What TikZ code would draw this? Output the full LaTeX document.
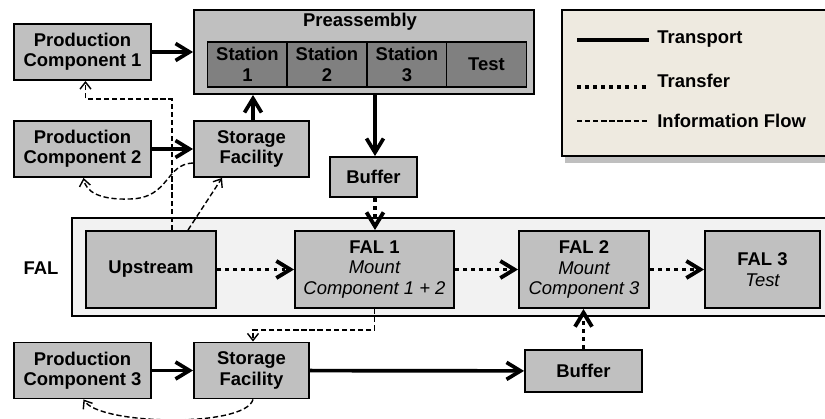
\documentclass[tikz,border=0pt]{standalone}
\usepackage{fontspec}
\setmainfont{Liberation Sans}
\usepackage{xcolor}
\usetikzlibrary{arrows.meta,shadows}
\definecolor{boxgray}{HTML}{C0C0C0}
\definecolor{stationgray}{HTML}{808080}
\definecolor{bandgray}{HTML}{F2F2F2}
\definecolor{legendbg}{HTML}{EEEAE0}

\begin{document}
\begin{tikzpicture}[
  x=0.02cm, y=-0.02cm,
  font=\fontsize{10.5}{11.6}\selectfont\bfseries,
  box/.style={rectangle, draw=black, line width=1.1pt, fill=boxgray, align=center, inner sep=1pt},
  station/.style={box, fill=stationgray, minimum width=1.6cm, minimum height=0.9cm},
  prodbox/.style={box, minimum width=2.74cm, minimum height=1.12cm},
  storebox/.style={box, minimum width=2.3cm, minimum height=1.12cm},
  falbox/.style={box, minimum height=1.54cm},
  transport/.style={-{Straight Barb[length=2.8mm,width=3.4mm]}, line width=2.1pt},
  transfer/.style={-{Straight Barb[length=2.8mm,width=3.4mm]}, line width=2.2pt, dash pattern=on 2.2pt off 2.4pt},
  info/.style={-{Straight Barb[length=1.4mm,width=2.2mm]}, line width=0.8pt, dash pattern=on 3pt off 1.6pt},
  lgd/.style={anchor=west, inner sep=0pt},
]
\useasboundingbox (0,0) rectangle (825,419);

% legend
\node[rectangle, draw=black, line width=1.1pt, fill=legendbg, minimum width=5.36cm, minimum height=2.92cm,
      drop shadow={shadow xshift=0.6mm, shadow yshift=-1.4mm, fill=black!50}] (legend) at (696,83) {};
\coordinate (ta) at (577,40);  \coordinate (tb) at (649,40);
\coordinate (fa) at (577,87);  \coordinate (fb) at (649,87);
\coordinate (ia) at (577,121); \coordinate (ib) at (649,121);
\draw[line width=2.1pt] (ta) -- (tb);
\draw[line width=2.2pt, dash pattern=on 2.2pt off 2.4pt] (fa) -- (fb);
\draw[line width=0.8pt, dash pattern=on 3pt off 1.6pt] (ia) -- (ib);
\node[lgd] (ltransport) at (657,39)  {Transport};
\node[lgd] (ltransfer)  at (657,81)  {Transfer};
\node[lgd] (linfo)      at (657,121) {Information Flow};

% FAL band
\node[rectangle, draw=black, line width=0.7pt, fill=bandgray, minimum width=15.16cm, minimum height=1.96cm] (falband) at (451,267) {};
\node (fallbl) at (41,268) {FAL};

% preassembly
\node[box, minimum width=6.8cm, minimum height=1.68cm] (preasm) at (364,52) {};
\node (pretitle) at (360,22) {Preassembly};
\node[station] (st1)  at (247.5,64.5) {Station\\1};
\node[station] (st2)  at (327,64.5)   {Station\\2};
\node[station] (st3)  at (407,64.5)   {Station\\3};
\node[station] (test) at (486.5,64.5) {Test};

\node[prodbox]  (prod1)  at (82.5,52)    {Production\\Component 1};
\node[prodbox]  (prod2)  at (82.5,149)   {Production\\Component 2};
\node[prodbox]  (prod3)  at (82.5,370.5) {Production\\Component 3};
\node[storebox] (store1) at (251.5,149)  {Storage\\Facility};
\node[storebox] (store2) at (251.5,370.5){Storage\\Facility};
\node[box, minimum width=1.74cm, minimum height=0.8cm]  (buf1) at (373.5,177) {Buffer};
\node[box, minimum width=2.34cm, minimum height=0.84cm] (buf2) at (583.5,371) {Buffer};

\node[falbox, minimum width=2.6cm]  (upstream) at (151,269.5)   {Upstream};
\node[falbox, minimum width=3.18cm] (fal1)     at (374.5,269.5) {FAL 1\\\normalfont\itshape Mount\\\normalfont\itshape Component 1 + 2};
\node[falbox, minimum width=2.6cm]  (fal2)     at (584,269.5)   {FAL 2\\\normalfont\itshape Mount\\\normalfont\itshape Component 3};
\node[falbox, minimum width=2.3cm]  (fal3)     at (762.5,269.5) {FAL 3\\\normalfont\itshape Test};

% transport
\draw[transport] (prod1) -- (preasm);
\draw[transport] (prod2) -- (store1);
\draw[transport] ([xshift=0.3mm]store1.north) -- ([xshift=0.3mm]store1.north |- preasm.south);
\draw[transport] ([xshift=0.3mm]buf1.north |- preasm.south) -- ([xshift=0.3mm]buf1.north);
\draw[transport] (prod3) -- (store2);
\draw[transport] (store2) -- (buf2);
% transfer
\draw[transfer] ([xshift=0.3mm]buf1.south) -- ([xshift=0.3mm]buf1.south |- fal1.north);
\draw[transfer] (upstream) -- (fal1);
\draw[transfer] (fal1) -- (fal2);
\draw[transfer] (fal2) -- (fal3);
\draw[transfer] (buf2.north) -- (buf2.north |- fal2.south);
% information flow
\draw[info] ([xshift=4.2mm]upstream.north) -- ++(0,-131) -| ([xshift=0.6mm]prod1.south);
\draw[info] ([xshift=7.4mm]upstream.north) -- ([xshift=-5.9mm]store1.south);
\draw[info] ([yshift=-2.8mm]store1.west) .. controls (165,164) and (170,198) .. (130,199)
            .. controls (100,200) and (86,192) .. ([xshift=0.2mm]prod2.south);
\draw[info] (fal1.south) -- ++(0,21) -| ([xshift=0.3mm]store2.north);
\draw[info] ([xshift=0.3mm]store2.south) .. controls (245,428) and (100,425) .. ([xshift=0.2mm]prod3.south);
\end{tikzpicture}
\end{document}
